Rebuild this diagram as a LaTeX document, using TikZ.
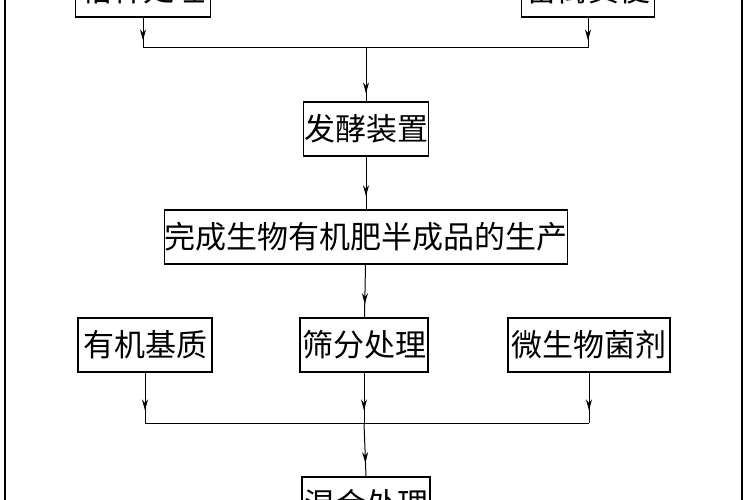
\documentclass[tikz,border=0pt]{standalone}
\usepackage{fontspec}
\newfontfamily\cjk{Noto Sans CJK SC}
\usetikzlibrary{arrows.meta, decorations.markings}

\begin{document}
\begin{tikzpicture}[x=1pt, y=-1pt,
   box/.style = {draw, line width=1.2pt, inner sep=0pt, minimum height=54pt,
                 font=\cjk\fontsize{31}{31}\selectfont},
   flow/.style = {line width=1pt, postaction={decorate}, decoration={markings,
                 mark=at position #1 with {\arrow{Stealth[length=11pt, width=6pt]}}}},
   flow/.default = 0.75]
   \useasboundingbox (0,0) rectangle (750,500);
   \clip (0,0) rectangle (750,500);
   \draw[line width=1.2pt] (5,-10) -- (5,510) (742,-10) -- (742,510);
   % top row
   \node[box, minimum width=135pt] (straw) at (143,-10) {秸秆处理};
   \node[box, minimum width=133pt] (manure) at (588,-10) {畜禽粪便};
   \node[box, minimum width=125pt] (ferment) at (366,129) {发酵装置};
   \node[box, minimum width=403pt] (semi) at (366,237) {完成生物有机肥半成品的生产};
   % middle row
   \node[box, minimum width=134pt] (base) at (145,345) {有机基质};
   \node[box, minimum width=128pt] (sieve) at (364,345) {筛分处理};
   \node[box, minimum width=162pt] (microbe) at (589,345) {微生物菌剂};
   \node[box, minimum width=128pt] (mix) at (366,504) {混合处理};
   \coordinate (j1) at (366,48);
   \coordinate (j2) at (364,423);

   \draw[flow] (straw.south) -- (straw.south |- j1);
   \draw[flow] (manure.south) -- (manure.south |- j1);
   \draw[line width=1pt] (straw.south |- j1) -- (manure.south |- j1);
   \draw[flow=0.85] (j1) -- (ferment.north);
   \draw[flow] (ferment) -- (semi);
   \draw[flow] (semi) -- (sieve);
   \draw[flow] (base.south) -- (base.south |- j2);
   \draw[flow] (microbe.south) -- (microbe.south |- j2);
   \draw[line width=1pt] (base.south |- j2) -- (microbe.south |- j2);
   \draw[flow] (sieve.south) -- (j2);
   \draw[flow] (j2) -- (mix.north);
\end{tikzpicture}
\end{document}
